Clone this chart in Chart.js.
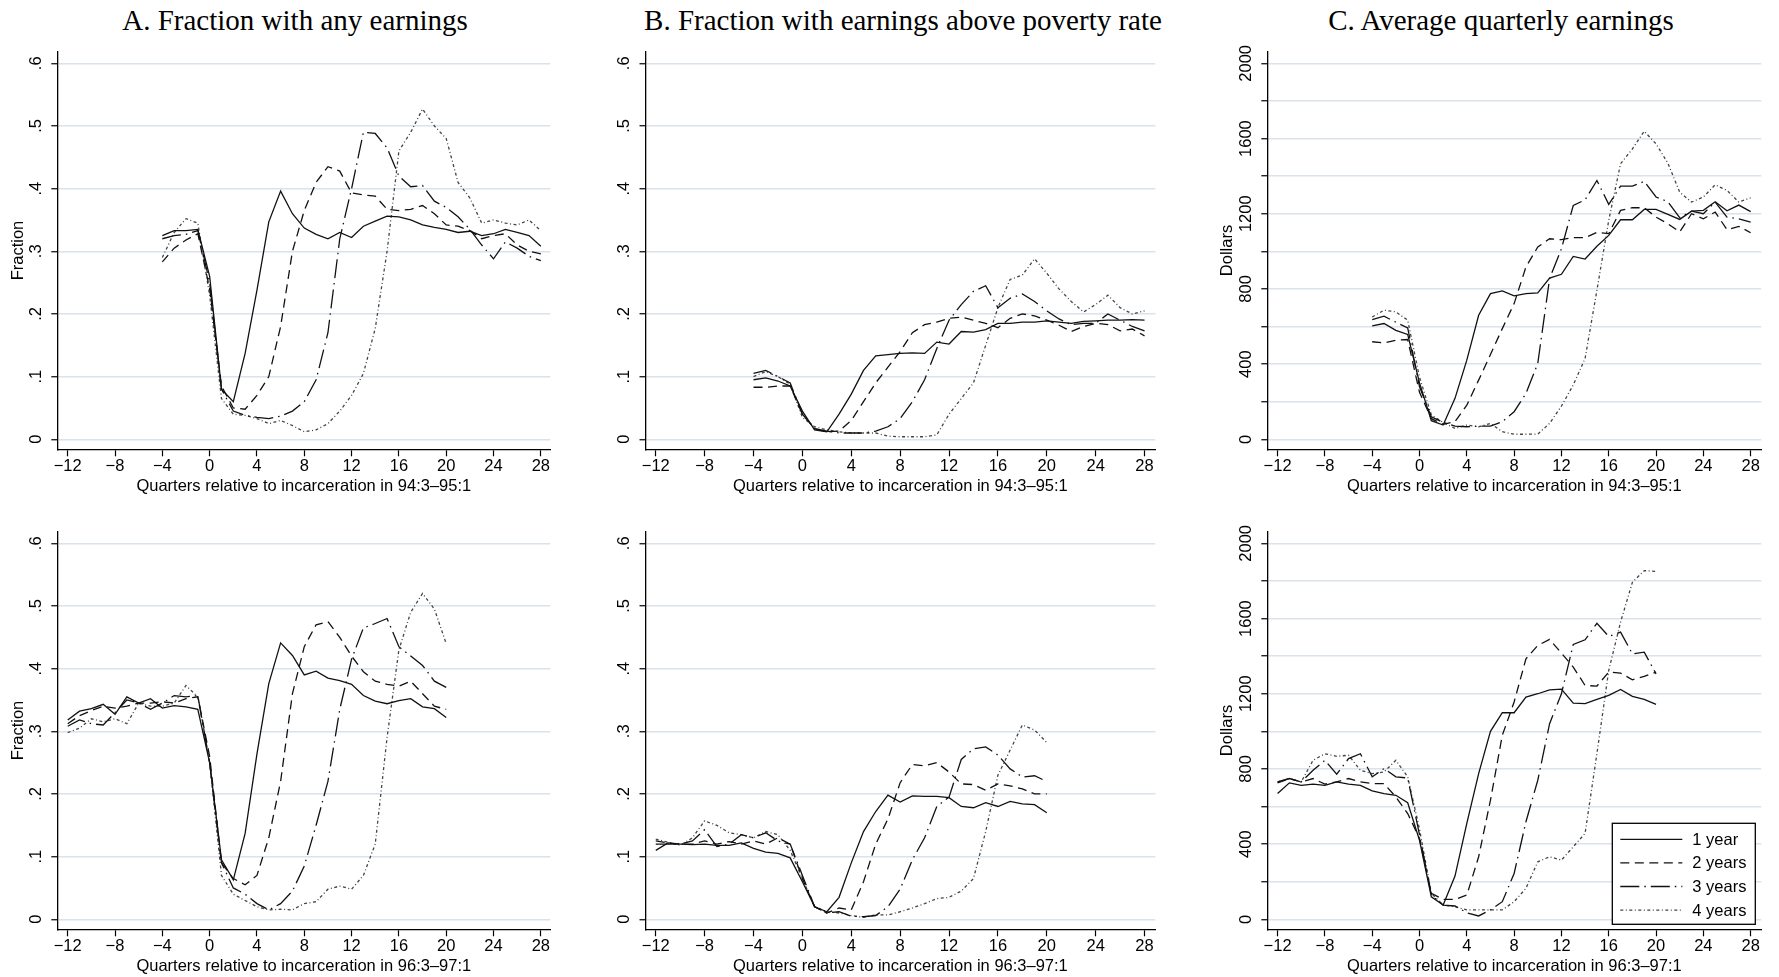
<!DOCTYPE html>
<html>
<head>
<meta charset="utf-8">
<script src="https://cdn.jsdelivr.net/npm/chart.js@4.4.1/dist/chart.umd.min.js"></script>
<style>
  body { margin: 0; background: #fff; width: 1779px; height: 977px; position: relative; overflow: hidden; }
  canvas { position: absolute; }
  .title { position: absolute; top: 6px; transform: translateX(-50%); white-space: nowrap;
           font-family: 'Liberation Serif', 'Times New Roman', serif; font-size: 29px; line-height: 29px; color: #000; }
</style>
</head>
<body>
<div class="title" style="left:295px">A. Fraction with any earnings</div>
<div class="title" style="left:903px">B. Fraction with earnings above poverty rate</div>
<div class="title" style="left:1501px">C. Average quarterly earnings</div>

<canvas id="anyTop" width="590" height="500" style="left:0;top:0"></canvas>
<canvas id="povTop" width="590" height="500" style="left:590px;top:0"></canvas>
<canvas id="earnTop" width="599" height="500" style="left:1180px;top:0"></canvas>
<canvas id="anyBot" width="590" height="477" style="left:0;top:500px"></canvas>
<canvas id="povBot" width="590" height="477" style="left:590px;top:500px"></canvas>
<canvas id="earnBot" width="599" height="477" style="left:1180px;top:500px"></canvas>

<script>
// quarters relative to incarceration
const quartersTop = [-4, -3, -2, -1, 0, 1, 2, 3, 4, 5, 6, 7, 8, 9, 10, 11, 12, 13, 14, 15, 16, 17, 18, 19, 20, 21, 22, 23, 24, 25, 26, 27, 28];
const quartersBot = [-12, -11, -10, -9, -8, -7, -6, -5, -4, -3, -2, -1, 0, 1, 2, 3, 4, 5, 6, 7, 8, 9, 10, 11, 12, 13, 14, 15, 16, 17, 18, 19, 20];
const xTickValues = [-12, -8, -4, 0, 4, 8, 12, 16, 20, 24, 28];
const fracTickValues = [0, 0.1, 0.2, 0.3, 0.4, 0.5, 0.6];
const dollarTickValues = [0, 200, 400, 600, 800, 1000, 1200, 1400, 1600, 1800, 2000];
const seriesLabels = ['1 year', '2 years', '3 years', '4 years'];

// A. fraction with any earnings, 94:3-95:1
const anyTop1 = [.325, .333, .333, .335, .26, .08, .06, .137, .238, .347, .396, .36, .337, .327, .32, .33, .322, .34, .348, .356, .355, .35, .342, .338, .335, .33, .332, .325, .328, .335, .33, .325, .308];
const anyTop2 = [.283, .305, .318, .328, .24, .085, .05, .048, .07, .10, .18, .30, .365, .41, .435, .428, .393, .39, .388, .367, .365, .367, .373, .36, .342, .34, .333, .32, .325, .328, .31, .30, .296];
const anyTop3 = [.32, .325, .327, .333, .25, .08, .045, .038, .035, .033, .037, .045, .06, .095, .17, .32, .40, .49, .488, .465, .42, .403, .405, .38, .37, .355, .335, .31, .288, .315, .305, .292, .285];
const anyTop4 = [.29, .33, .352, .345, .23, .065, .04, .038, .033, .025, .03, .022, .012, .015, .025, .045, .07, .105, .177, .30, .46, .49, .527, .50, .48, .41, .385, .345, .35, .345, .342, .35, .333];

// B. fraction above poverty rate, 94:3-95:1
const povTop1 = [.095, .098, .093, .085, .045, .015, .012, .04, .072, .11, .133, .135, .137, .138, .137, .155, .152, .172, .171, .175, .185, .185, .187, .187, .189, .187, .185, .188, .189, .19, .19, .191, .19];
const povTop2 = [.083, .083, .085, .085, .04, .017, .012, .013, .03, .06, .09, .115, .14, .17, .183, .187, .193, .195, .19, .185, .178, .193, .2, .197, .19, .182, .172, .18, .185, .183, .173, .176, .165];
const povTop3 = [.105, .11, .1, .09, .04, .017, .013, .01, .01, .01, .013, .02, .033, .06, .095, .145, .19, .215, .236, .245, .21, .225, .232, .22, .205, .192, .183, .185, .185, .2, .19, .18, .173];
const povTop4 = [.1, .108, .1, .088, .035, .02, .015, .012, .01, .01, .01, .005, .004, .004, .004, .007, .04, .065, .09, .15, .21, .255, .262, .288, .265, .24, .22, .203, .215, .23, .21, .2, .205];

// C. average quarterly earnings, 94:3-95:1
const earnTop1 = [604, 616, 580, 558, 300, 99, 76, 218, 421, 660, 775, 790, 763, 775, 779, 858, 878, 973, 959, 1027, 1085, 1168, 1168, 1223, 1223, 1197, 1170, 1214, 1218, 1264, 1216, 1246, 1211];
const earnTop2 = [519, 513, 527, 531, 250, 110, 80, 94, 182, 315, 451, 589, 722, 917, 1023, 1067, 1062, 1073, 1073, 1101, 1094, 1218, 1232, 1232, 1182, 1147, 1103, 1200, 1173, 1209, 1115, 1133, 1099];
const earnTop3 = [637, 655, 623, 593, 280, 120, 90, 70, 67, 70, 70, 94, 147, 244, 404, 855, 1014, 1244, 1274, 1377, 1250, 1347, 1347, 1372, 1289, 1264, 1179, 1214, 1200, 1262, 1182, 1173, 1156];
const earnTop4 = [651, 687, 678, 634, 330, 130, 90, 58, 76, 67, 85, 41, 27, 27, 28, 85, 177, 289, 430, 793, 1165, 1466, 1545, 1639, 1572, 1469, 1315, 1262, 1289, 1354, 1324, 1262, 1285];

// A. fraction with any earnings, 96:3-97:1
const anyBot1 = [.318, .332, .336, .343, .327, .355, .345, .352, .337, .341, .339, .335, .25, .095, .063, .137, .264, .376, .441, .421, .39, .396, .385, .381, .375, .357, .348, .344, .349, .352, .339, .336, .322];
const anyBot2 = [.312, .325, .333, .34, .337, .34, .345, .345, .347, .345, .352, .355, .26, .09, .065, .055, .07, .13, .22, .36, .435, .47, .475, .45, .42, .395, .38, .375, .372, .38, .36, .34, .335];
const anyBot3 = [.308, .318, .312, .31, .33, .35, .345, .335, .345, .357, .355, .357, .25, .09, .05, .04, .025, .015, .025, .045, .085, .15, .22, .335, .415, .465, .472, .48, .435, .42, .405, .38, .37];
const anyBot4 = [.298, .305, .32, .315, .32, .312, .345, .34, .34, .345, .373, .355, .25, .07, .04, .03, .02, .015, .016, .015, .025, .028, .048, .053, .048, .07, .12, .29, .43, .49, .52, .495, .44];

// B. fraction above poverty rate, 96:3-97:1
const povBot1 = [.12, .12, .12, .119, .12, .118, .118, .122, .113, .107, .105, .098, .06, .02, .012, .035, .09, .14, .172, .198, .187, .197, .196, .196, .194, .18, .178, .186, .18, .188, .184, .183, .17];
const povBot2 = [.125, .122, .12, .12, .125, .12, .124, .12, .125, .12, .13, .12, .065, .02, .01, .018, .015, .06, .12, .16, .218, .247, .245, .25, .235, .216, .215, .206, .216, .213, .208, .2, .2];
const povBot3 = [.11, .122, .12, .125, .143, .116, .12, .135, .13, .138, .125, .12, .07, .02, .01, .012, .005, .004, .006, .02, .048, .095, .13, .18, .195, .255, .272, .275, .262, .24, .227, .229, .22];
const povBot4 = [.128, .123, .118, .13, .157, .15, .138, .135, .13, .14, .135, .11, .065, .02, .012, .01, .006, .003, .007, .007, .012, .018, .025, .033, .035, .045, .065, .14, .23, .27, .31, .302, .282];

// C. average quarterly earnings, 96:3-97:1
const earnBot1 = [669, 726, 713, 719, 713, 731, 719, 713, 683, 669, 660, 620, 420, 120, 76, 230, 510, 775, 1000, 1099, 1099, 1182, 1200, 1221, 1225, 1150, 1147, 1170, 1191, 1223, 1186, 1170, 1143];
const earnBot2 = [726, 749, 731, 749, 719, 731, 749, 731, 722, 722, 651, 563, 430, 138, 106, 106, 129, 333, 634, 979, 1156, 1386, 1457, 1489, 1416, 1342, 1244, 1241, 1315, 1310, 1274, 1292, 1315];
const earnBot3 = [731, 749, 731, 793, 846, 772, 855, 881, 758, 802, 758, 752, 450, 129, 76, 71, 35, 18, 50, 94, 244, 519, 740, 1041, 1200, 1462, 1487, 1575, 1505, 1528, 1412, 1421, 1306];
const earnBot4 = [731, 749, 731, 846, 881, 867, 873, 793, 775, 784, 846, 758, 480, 138, 76, 67, 50, 50, 50, 50, 94, 165, 306, 333, 315, 386, 457, 881, 1324, 1581, 1793, 1855, 1851];

const sansFont = "'Liberation Sans', Arial, Helvetica, sans-serif";
const lineColors = ['#111', '#111', '#111', '#444'];
const gridColor = '#dae2ec';
const dashes = [[], [9, 5.5], [19, 5, 1.5, 5], [3, 2.5, 1, 2.5]];

function fmtX(v) {
  return v < 0 ? '\u2212' + Math.abs(v) : String(v);
}
function fmtFrac(v) {
  if (v === 0) return '0';
  return '.' + Math.round(v * 10);
}
function fmtDollar(v) {
  return v % 400 === 0 ? String(v) : '';
}

// rotated y tick labels, drawn at the scale's own pixel positions
const yLabelPlugin = {
  id: 'yLabels',
  afterDraw(chart, args, opts) {
    const s = chart.scales.y;
    const ctx = chart.ctx;
    ctx.save();
    ctx.font = '16.5px ' + sansFont;
    ctx.fillStyle = '#000';
    ctx.textAlign = 'center';
    ctx.textBaseline = 'middle';
    s.ticks.forEach(t => {
      const txt = opts.fmt(t.value);
      if (!txt) return;
      ctx.save();
      ctx.translate(s.right - 21, s.getPixelForValue(t.value));
      ctx.rotate(-Math.PI / 2);
      ctx.fillText(txt, 0, 0);
      ctx.restore();
    });
    ctx.restore();
  }
};

// legend box inside the last panel
const boxLegendPlugin = {
  id: 'boxLegend',
  afterDraw(chart, args, opts) {
    if (!opts.show) return;
    const ctx = chart.ctx;
    const a = chart.chartArea;
    const bx = a.right - 149, by = a.bottom - 106, bw = 143, bh = 101;
    ctx.save();
    ctx.fillStyle = '#fff';
    ctx.fillRect(bx, by, bw, bh);
    ctx.strokeStyle = '#000';
    ctx.lineWidth = 1.3;
    ctx.strokeRect(bx, by, bw, bh);
    ctx.font = '16.5px ' + sansFont;
    ctx.fillStyle = '#000';
    ctx.textBaseline = 'middle';
    chart.data.datasets.forEach((ds, i) => {
      const y = by + 16 + i * 23.6;
      ctx.beginPath();
      ctx.setLineDash(ds.borderDash);
      ctx.strokeStyle = ds.borderColor;
      ctx.lineWidth = 1.3;
      ctx.moveTo(bx + 8, y);
      ctx.lineTo(bx + 70, y);
      ctx.stroke();
      ctx.setLineDash([]);
      ctx.fillText(ds.label, bx + 80, y + 1);
    });
    ctx.restore();
  }
};

function makePanel(id, cfg) {
  const datasets = cfg.series.map((ys, i) => ({
    label: seriesLabels[i],
    data: cfg.xs.map((x, j) => ({ x: x, y: ys[j] })),
    borderColor: lineColors[i],
    borderWidth: 1.3,
    borderDash: dashes[i],
    pointRadius: 0,
    tension: 0,
    fill: false
  }));
  return new Chart(document.getElementById(id), {
    type: 'line',
    data: { datasets: datasets },
    plugins: [yLabelPlugin, boxLegendPlugin],
    options: {
      responsive: false,
      animation: false,
      layout: { padding: { left: 0, right: cfg.rightPad, top: cfg.topPad, bottom: 0 } },
      plugins: {
        legend: { display: false },
        tooltip: { enabled: false },
        yLabels: { fmt: cfg.yFmt },
        boxLegend: { show: !!cfg.legend }
      },
      scales: {
        x: {
          type: 'linear',
          min: cfg.xMin,
          max: cfg.xMax,
          afterBuildTicks: s => { s.ticks = xTickValues.map(v => ({ value: v })); },
          afterFit: s => { s.height = cfg.xHeight; },
          ticks: { color: '#000', font: { family: sansFont, size: 16.5 }, padding: 0, maxRotation: 0, autoSkip: false, callback: v => fmtX(v) },
          grid: { drawOnChartArea: false, drawTicks: true, tickLength: 7, tickColor: '#000', tickWidth: 1.2 },
          border: { display: true, color: '#000', width: 1.3 },
          title: { display: true, text: cfg.xTitle, color: '#000', font: { family: sansFont, size: 16.5 }, padding: { top: 0, bottom: cfg.xTitlePad } }
        },
        y: {
          type: 'linear',
          min: cfg.yMin,
          max: cfg.yMax,
          afterBuildTicks: s => { s.ticks = cfg.yTicks.map(v => ({ value: v })); },
          afterFit: s => { s.width = cfg.yWidth; },
          ticks: { display: false },
          grid: { color: gridColor, lineWidth: 1.5, drawTicks: true, tickLength: 6, tickColor: '#000', tickWidth: 1.2 },
          border: { display: true, color: '#000', width: 1.3 },
          title: { display: !!cfg.yTitle, text: cfg.yTitle || '', color: '#000', font: { family: sansFont, size: 16.5 }, padding: { top: cfg.yTitlePad, bottom: 0 } }
        }
      }
    }
  });
}

const xTitleTop = 'Quarters relative to incarceration in 94:3\u201395:1';
const xTitleBot = 'Quarters relative to incarceration in 96:3\u201397:1';

const rows = [
  { suffix: 'Top', xs: quartersTop, topPad: 51.7, xHeight: 50.7, xTitlePad: 3.5, xTitle: xTitleTop },
  { suffix: 'Bot', xs: quartersBot, topPad: 31.7, xHeight: 47.7, xTitlePad: 0.5, xTitle: xTitleBot }
];

rows.forEach(r => {
  const top = r.suffix === 'Top';
  makePanel('any' + r.suffix, {
    xs: r.xs, series: top ? [anyTop1, anyTop2, anyTop3, anyTop4] : [anyBot1, anyBot2, anyBot3, anyBot4],
    xMin: -12.88, xMax: 28.8, yMin: -0.016, yMax: 0.6185, yTicks: fracTickValues, yFmt: fmtFrac,
    yWidth: 57.3, rightPad: 39.7, topPad: r.topPad, xHeight: r.xHeight, xTitlePad: r.xTitlePad,
    xTitle: r.xTitle, yTitle: 'Fraction', yTitlePad: 8.5
  });
  makePanel('pov' + r.suffix, {
    xs: r.xs, series: top ? [povTop1, povTop2, povTop3, povTop4] : [povBot1, povBot2, povBot3, povBot4],
    xMin: -12.84, xMax: 28.88, yMin: -0.016, yMax: 0.6185, yTicks: fracTickValues, yFmt: fmtFrac,
    yWidth: 55.5, rightPad: 24.7, topPad: r.topPad, xHeight: r.xHeight, xTitlePad: r.xTitlePad,
    xTitle: r.xTitle, yTitle: null, yTitlePad: 0
  });
  makePanel('earn' + r.suffix, {
    xs: r.xs, series: top ? [earnTop1, earnTop2, earnTop3, earnTop4] : [earnBot1, earnBot2, earnBot3, earnBot4],
    xMin: -12.87, xMax: 28.9, yMin: -53, yMax: 2062, yTicks: dollarTickValues, yFmt: fmtDollar,
    yWidth: 87.3, rightPad: 17.7, topPad: r.topPad, xHeight: r.xHeight, xTitlePad: r.xTitlePad,
    xTitle: r.xTitle, yTitle: 'Dollars', yTitlePad: 38, legend: !top
  });
});
</script>
</body>
</html>
